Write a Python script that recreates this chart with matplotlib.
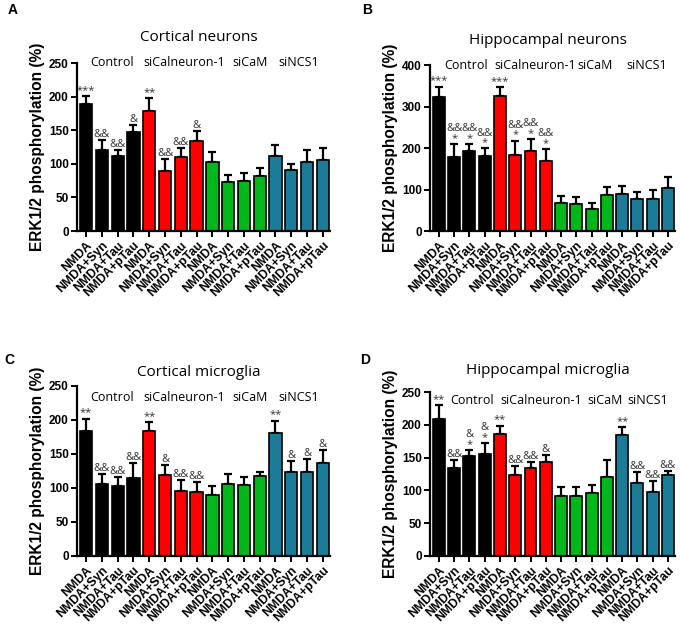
import matplotlib
matplotlib.use('Agg')
from matplotlib import pyplot as plt
import numpy as np

labels = ['NMDA', 'NMDA+Syn', 'NMDA+Tau', 'NMDA+pTau'] * 4
groups = ['Control', 'siCalneuron-1', 'siCaM', 'siNCS1']
colors = ['black'] * 4 + ['#ff0000'] * 4 + ['#00b81a'] * 4 + ['#1a7c98'] * 4

# panel A - cortical neurons
a_mean = [189, 120, 112, 148, 179, 90, 110, 134, 102, 73, 75, 82, 112, 91, 102, 105]
a_sem = [12, 15, 9, 10, 19, 17, 13, 15, 15, 11, 11, 12, 16, 9, 18, 18]
a_sig = ['***', '&&', '&&', '&', '**', '&&', '&&', '&', '', '', '', '', '', '', '', '']

# panel B - hippocampal neurons
b_mean = [324, 178, 192, 180, 326, 184, 194, 168, 68, 64, 54, 86, 88, 76, 78, 104]
b_sem = [24, 32, 18, 20, 21, 34, 28, 30, 16, 18, 14, 20, 21, 19, 20, 26]
b_sig = ['***', '&&\n*', '&&\n*', '&&\n*', '***', '&&\n*', '&&\n*', '&&\n*',
         '', '', '', '', '', '', '', '']

# panel C - cortical microglia
c_mean = [184, 106, 103, 115, 183, 119, 96, 94, 90, 106, 104, 117, 181, 124, 123, 136]
c_sem = [18, 15, 13, 22, 14, 15, 15, 15, 13, 14, 12, 6, 18, 16, 19, 20]
c_sig = ['**', '&&', '&&', '&&', '**', '&', '&&', '&&', '', '', '', '', '**', '&', '&', '&']

# panel D - hippocampal microglia
d_mean = [209, 135, 152, 155, 186, 124, 135, 144, 92, 91, 96, 120, 184, 112, 97, 124]
d_sem = [21, 12, 10, 18, 13, 13, 8, 10, 14, 14, 13, 26, 13, 16, 17, 6]
d_sig = ['**', '&&', '&\n*', '&\n*', '**', '&&', '&&', '&', '', '', '', '', '**', '&&', '&&', '&&']

plt.rcParams['font.family'] = ['Liberation Sans', 'DejaVu Sans']

figure = plt.figure(figsize=(6.8, 6.3), dpi=100)

panels = [
    ('A', 'Cortical neurons', a_mean, a_sem, a_sig, 250, 50,
     [0.1132, 0.6333, 0.372, 0.2667], [1.65, 6.2, 10.4, 13.5], 1.0, 0.15),
    ('B', 'Hippocampal neurons', b_mean, b_sem, b_sig, 400, 100,
     [0.6324, 0.6333, 0.360, 0.2635], [1.8, 6.3, 10.2, 13.6], 1.0, 0.145),
    ('C', 'Cortical microglia', c_mean, c_sem, c_sig, 250, 50,
     [0.1132, 0.1175, 0.372, 0.27], [1.65, 6.2, 10.4, 13.5], 0.93, 0.08),
    ('D', 'Hippocampal microglia', d_mean, d_sem, d_sig, 250, 50,
     [0.6324, 0.1175, 0.360, 0.260], [2.2, 6.7, 10.9, 13.7], 0.95, 0.135),
]

x = np.arange(16)
for letter, title, mean, sem, sig, ymax, step, pos, gx, gy, ty in panels:
    ax = figure.add_axes(pos)
    ax.bar(x, mean, width=0.78, color=colors, edgecolor='black', linewidth=1.2, zorder=2)
    ax.errorbar(x, mean, yerr=[np.zeros(16), sem], fmt='none', ecolor='black',
                elinewidth=1.6, capsize=3.2, capthick=1.6, zorder=1)
    for i in range(16):
        if sig[i]:
            ax.annotate(sig[i], (x[i], mean[i] + sem[i]), xytext=(0, 0),
                        textcoords='offset points', ha='center', va='bottom',
                        fontsize=8, color='#333333', linespacing=0.8,
                        family=['Open Sans', 'DejaVu Sans'])
    ax.set_xlim(-0.58, 15.45)
    ax.set_ylim(0, ymax)
    ax.set_yticks(np.arange(0, ymax + 1, step))
    ax.set_xticks(x)
    ax.set_xticklabels(labels, rotation=45, ha='right', rotation_mode='anchor',
                       fontsize=8.8, fontweight='bold')
    for t in ax.get_yticklabels():
        t.set_fontweight('bold')
        t.set_fontsize(8.5)
    ax.spines['top'].set_visible(False)
    ax.spines['right'].set_visible(False)
    ax.spines['left'].set_linewidth(1.6)
    ax.spines['bottom'].set_linewidth(1.6)
    ax.tick_params(width=1.4, length=4, pad=2)
    ax.set_ylabel('ERK1/2 phosphorylation (%)', fontsize=11.2, fontweight='bold', labelpad=3)
    for g, gxi in zip(groups, gx):
        ax.text(gxi, gy, g, transform=ax.get_xaxis_transform(), ha='center', va='center',
                fontsize=9, family=['Open Sans', 'DejaVu Sans'])
    ax.text(0.48, 1 + ty, title, transform=ax.transAxes, ha='center', va='center',
            fontsize=11, family=['Open Sans', 'DejaVu Sans'])

figure.text(8 / 680, 1 - 10 / 630, 'A', fontsize=10, fontweight='bold', va='center')
figure.text(362 / 680, 1 - 10 / 630, 'B', fontsize=10, fontweight='bold', va='center')
figure.text(4 / 680, 1 - 360 / 630, 'C', fontsize=10, fontweight='bold', va='center')
figure.text(360 / 680, 1 - 360 / 630, 'D', fontsize=10, fontweight='bold', va='center')

plt.savefig('out.png', dpi=100)
